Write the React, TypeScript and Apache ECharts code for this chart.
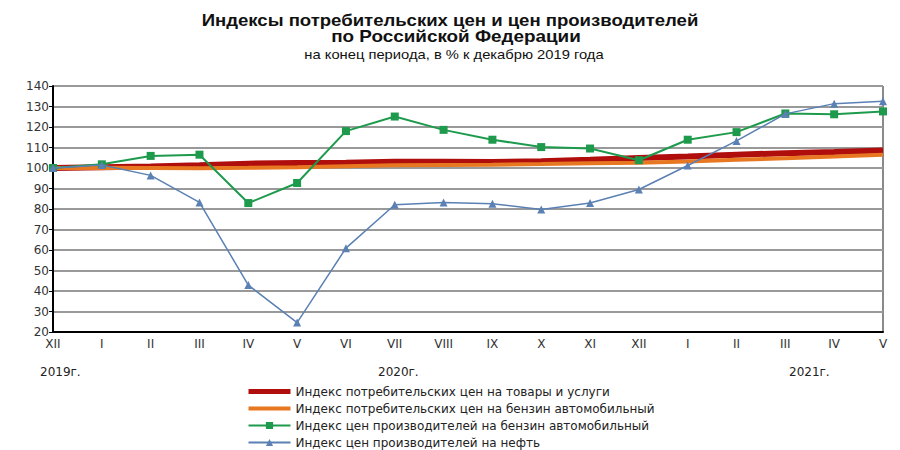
import React, { useEffect, useRef } from "react";
import * as echarts from "echarts";

const months = ["XII", "I", "II", "III", "IV", "V", "VI", "VII", "VIII", "IX", "X", "XI", "XII", "I", "II", "III", "IV", "V"];
const cpiAll = [100, 100.4, 100.7, 101.3, 102.1, 102.4, 102.6, 103.0, 103.0, 102.9, 103.3, 104.0, 104.9, 105.6, 106.5, 107.2, 107.8, 108.5];
const cpiGasoline = [100, 100.1, 100.0, 99.9, 100.1, 100.4, 100.9, 101.3, 101.5, 101.6, 101.9, 102.3, 102.6, 103.2, 104.0, 104.8, 105.6, 106.5];
const ppiGasoline = [100, 101.8, 105.9, 106.5, 82.9, 92.7, 118.0, 125.1, 118.6, 113.8, 110.2, 109.5, 103.8, 113.8, 117.5, 126.6, 126.2, 127.6];
const ppiOil = [100, 101.5, 96.4, 83.2, 42.9, 24.6, 60.9, 82.1, 83.2, 82.6, 79.7, 82.9, 89.5, 101.2, 113.2, 126.4, 131.4, 132.6];
const seriesNames = [
  "Индекс потребительских цен на товары и услуги",
  "Индекс потребительских цен на бензин автомобильный",
  "Индекс цен производителей на бензин автомобильный",
  "Индекс цен производителей на нефть",
];
const yearLabels = ["2019г.", "2020г.", "2021г."];
const titleLines = ["Индексы потребительских цен и цен производителей", "по Российской Федерации"];
const subtitle = "на конец периода, в % к декабрю 2019 года";

export default function App() {
  const ref = useRef<HTMLDivElement>(null);
  useEffect(() => {
    if (!ref.current) return;
    const chart = echarts.init(ref.current, undefined, { renderer: "svg" });
    const font = "'Liberation Sans', Arial, sans-serif";
    const wide = "'DejaVu Sans', sans-serif";
    const hidden = { opacity: 0 };
    chart.setOption({
      animation: false,
      backgroundColor: "#ffffff",
      textStyle: { fontFamily: font },
      grid: { left: 53, right: 17, top: 86, bottom: 118 },
      xAxis: {
        type: "category",
        data: months,
        boundaryGap: false,
        axisLine: { lineStyle: { color: "#000", width: 2 } },
        axisTick: { show: false },
        axisLabel: { color: "#333", fontSize: 12, margin: 6, fontFamily: wide },
        splitLine: { show: false },
      },
      yAxis: {
        type: "value",
        min: 20,
        max: 140,
        interval: 10,
        axisLine: { show: true, lineStyle: { color: "#000", width: 2 } },
        axisTick: { show: true, length: 4, lineStyle: { color: "#000" } },
        axisLabel: { color: "#333", fontSize: 12, margin: 4, fontFamily: wide },
        splitLine: { lineStyle: { color: "#999999", width: 2 } },
      },
      legend: {
        orient: "vertical",
        left: 246,
        top: 385,
        height: 80,
        padding: 0,
        itemGap: 4,
        itemWidth: 42,
        itemHeight: 9,
        textStyle: { fontFamily: wide, fontSize: 12, lineHeight: 13, color: "#222" },
        data: [
          { name: seriesNames[0], itemStyle: hidden, lineStyle: { width: 5 } },
          { name: seriesNames[1], itemStyle: hidden, lineStyle: { width: 4 } },
          { name: seriesNames[2] },
          { name: seriesNames[3] },
        ],
      },
      graphic: [
        {
          type: "text",
          x: 450,
          y: 20,
          scaleX: 1.16,
          style: { text: titleLines[0], fontSize: 16, fontWeight: "bold", fill: "#111", fontFamily: font, align: "center", verticalAlign: "middle" },
        },
        {
          type: "text",
          x: 456,
          y: 37,
          scaleX: 1.18,
          style: { text: titleLines[1], fontSize: 16, fontWeight: "bold", fill: "#111", fontFamily: font, align: "center", verticalAlign: "middle" },
        },
        {
          type: "text",
          x: 454,
          y: 55,
          scaleX: 1.18,
          style: { text: subtitle, fontSize: 12.5, fill: "#111", fontFamily: font, align: "center", verticalAlign: "middle" },
        },
        { type: "text", left: 40, top: 366, style: { text: yearLabels[0], fontSize: 12, fill: "#222", fontFamily: wide } },
        { type: "text", left: 378, top: 366, style: { text: yearLabels[1], fontSize: 12, fill: "#222", fontFamily: wide } },
        { type: "text", left: 789, top: 366, style: { text: yearLabels[2], fontSize: 12, fill: "#222", fontFamily: wide } },
        {
          type: "line",
          shape: { x1: 883, y1: 86, x2: 883, y2: 332 },
          style: { stroke: "#8a8a8a", lineWidth: 2 },
        },
      ],
      series: [
        {
          name: seriesNames[0],
          type: "line",
          data: cpiAll,
          symbol: "none",
          lineStyle: { color: "#b00d0d", width: 6 },
          itemStyle: { color: "#b00d0d" },
          z: 3,
        },
        {
          name: seriesNames[1],
          type: "line",
          data: cpiGasoline,
          symbol: "none",
          lineStyle: { color: "#e87722", width: 4 },
          itemStyle: { color: "#e87722" },
          z: 4,
        },
        {
          name: seriesNames[2],
          type: "line",
          data: ppiGasoline,
          symbol: "rect",
          symbolSize: 8,
          lineStyle: { color: "#1e9a4c", width: 2 },
          itemStyle: { color: "#1e9a4c" },
          z: 5,
        },
        {
          name: seriesNames[3],
          type: "line",
          data: ppiOil,
          symbol: "triangle",
          symbolSize: 8,
          lineStyle: { color: "#5a80b4", width: 1.5 },
          itemStyle: { color: "#5a80b4" },
          z: 6,
        },
      ],
    });
    return () => chart.dispose();
  }, []);
  return <div ref={ref} style={{ width: 900, height: 450, position: "absolute", left: 0, top: 0 }} />;
}
